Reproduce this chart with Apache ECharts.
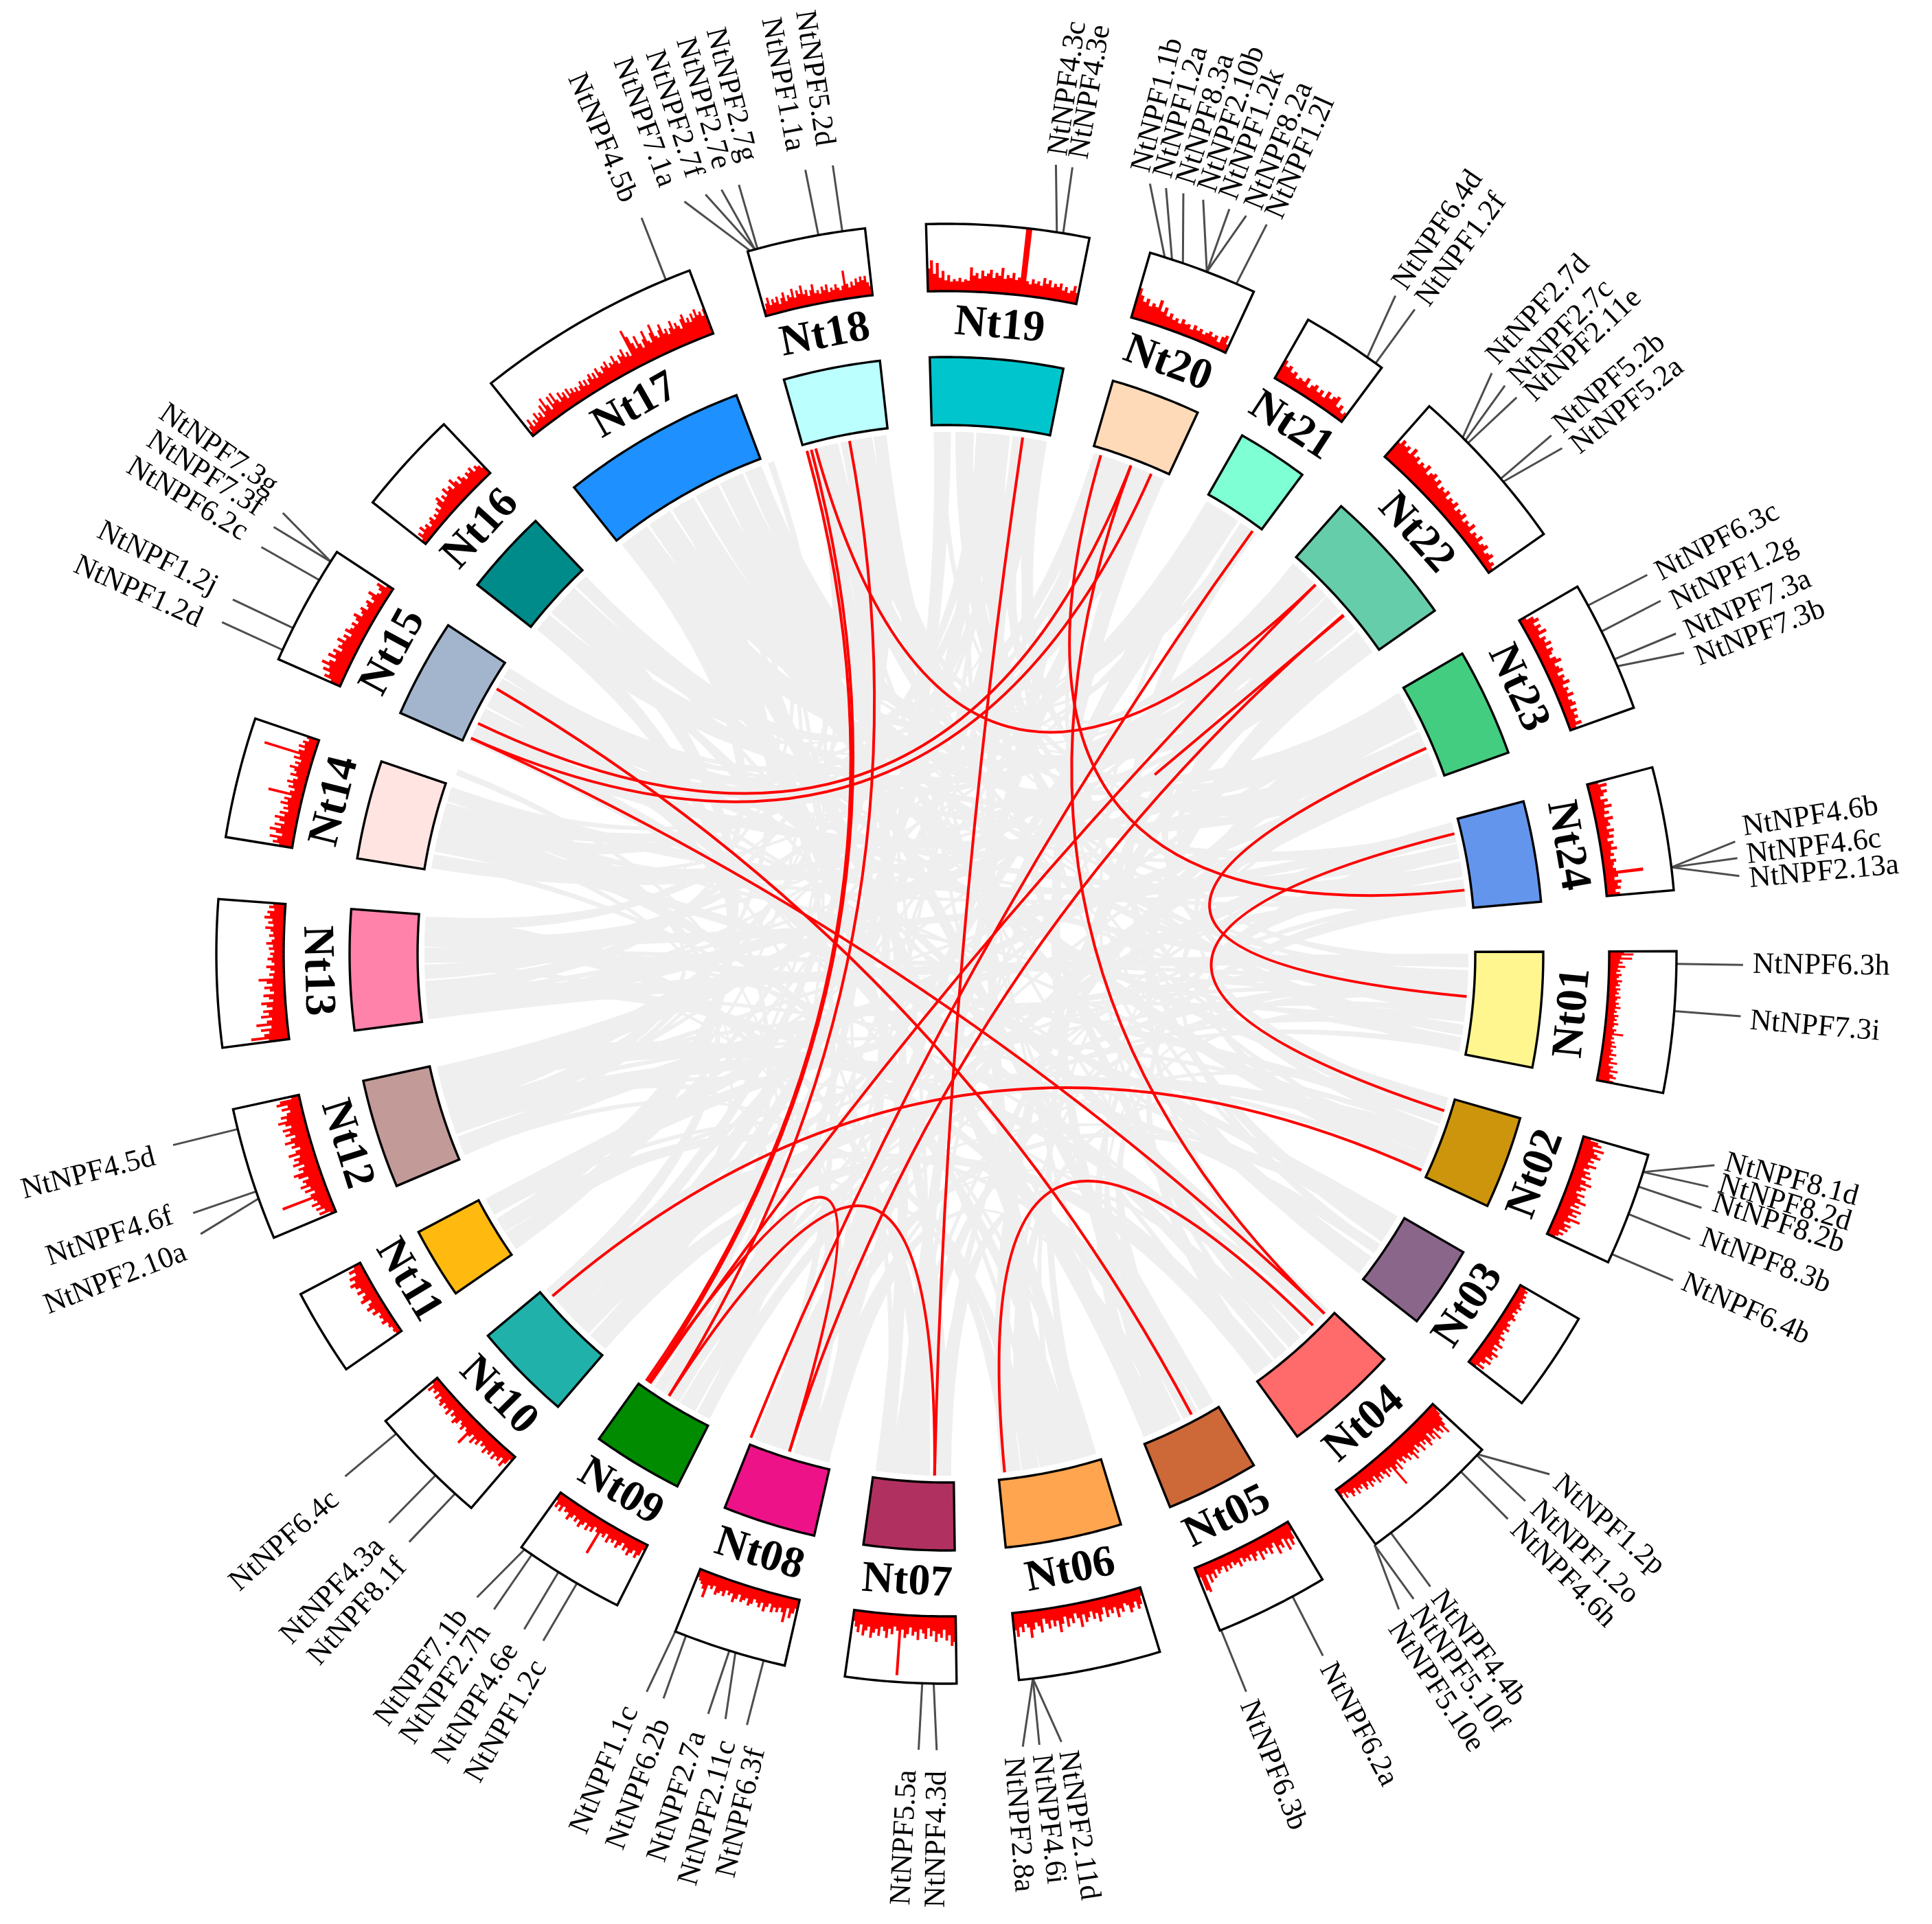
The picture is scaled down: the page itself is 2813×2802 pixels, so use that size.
<!DOCTYPE html>
<html><head><meta charset="utf-8">
<style>html,body{margin:0;padding:0;background:#fff}#c{width:2813px;height:2802px}</style>
<script src="https://cdn.jsdelivr.net/npm/echarts@6/dist/echarts.min.js"></script>
</head><body><div id="c"></div>
<script>
const chromNames=['Nt01','Nt02','Nt03','Nt04','Nt05','Nt06','Nt07','Nt08','Nt09','Nt10','Nt11','Nt12','Nt13','Nt14','Nt15','Nt16','Nt17','Nt18','Nt19','Nt20','Nt21','Nt22','Nt23','Nt24'];
const chromStart=[89.8,106,120,132.8,149,163,179.2,192.8,206.8,220.6,235.3,247.1,262.6,279.2,293.8,308.2,321.4,344.2,358.4,16.2,29.7,41.4,59.8,75.2];
const chromEnd=[101,115,128,144,158,174.3,188,201.8,215.6,230.2,242.2,257.7,274.3,288.8,303.4,316.5,339.4,353.6,371.3,24.9,36.6,54.9,70.3,85];
const chromColors=['#FFF68F','#CD950C','#8B668B','#FF6A6A','#CD6839','#FFA54F','#B03060','#EE1289','#008B00','#20B2AA','#FFB90F','#C29B99','#FF82AB','#FFE4E1','#A2B5CD','#008B8B','#1E90FF','#BBFFFF','#00C5CD','#FFDAB9','#7FFFD4','#66CDAA','#43CD80','#6495ED'];

const hist01=[22,36,18,34,16,20,14,24,13,17,11,19,15,12,20,14,17,11,18,13,16,11,19,14,12,17,13,20,12,15,11,18,13,16,12,19,13,11,17,14,28,12,15,11,17,13,20,12,16,14,22,12,18,15,25,13,20,17,28,16,22,27,18,24];
const hist02=[12,24,30,18,36,22,28,34,20,26,18,32,22,15,26,20,30,16,24,34,18,28,22,16,30,20,26,36,20,28,16,34,22,30,18,38,24,16,28,20,26,14,22,16,12];
const hist03=[10,15,12,17,14,19,13,16,20,14,18,12,17,21,15,13,19,16,22,14,18,15,24,17,20,28,16,24,18,30,22,26,16,28,20,14,24,12];
const hist04=[10,18,26,34,46,30,40,34,26,44,30,38,24,36,42,28,34,26,40,30,24,36,28,42,32,26,36,30,24,34,28,22,38,26,32,58,24,30,22,34,26,20,30,24,32,18,26,22,30,18,24,28,16,22,18,26,14,20,24,16,12,20,10,14];
const hist05=[14,26,34,22,38,18,30,24,36,16,22,30,18,26,20,32,16,22,28,16,24,18,22,14,26,18,20,14,22,16,24,14,18,22,14,26,18,30,16,42,38,16];
const hist06=[12,24,30,18,26,32,20,16,28,22,34,18,26,20,30,14,24,34,20,28,16,24,30,18,36,22,14,28,20,32,16,26,38,20,28,18,30,22,14,34,24,18,28,40,24,18,30,22,36,26];
const hist07=[38,44,28,36,20,32,26,38,22,30,18,34,26,20,36,24,30,18,28,34,22,90,24,18,30,22,36,26,20,34,24,30,38,22,28,36,20,32,24,16];
const hist08=[14,22,30,16,38,24,18,26,20,28,16,22,30,18,26,20,16,24,28,18,22,26,16,24,30,18,22,16,26,20,24,28,16,22,18,38,26,20,16,12];
const hist09=[10,20,26,16,22,28,18,24,14,20,26,16,22,18,26,14,22,18,54,20,14,24,18,26,16,22,28,18,24,16,22,28,18,20,14,24,16,22,12];
const hist10=[8,18,26,14,22,18,26,16,24,20,28,18,22,16,26,20,30,18,24,42,22,18,26,20,16,24,28,18,22,14,26,18,22,16,24,20,14,22,12,18,14,22,10];
const hist11=[8,10,8,12,10,18,13,16,12,22,16,26,20,14,28,22,16,26,18,24,30,20,26,14,22,12];
const hist12=[8,24,14,26,18,30,20,24,72,26,18,32,22,36,26,30,20,34,40,24,30,20,36,26,32,22,38,26,18,30,24,38,28,20,34,26,36,22,30,40,26,34,24,18,30,20,36,30,12];
const hist13=[30,56,36,28,40,24,46,30,22,38,26,34,20,28,36,18,24,32,16,22,30,18,26,38,16,22,14,20,26,14,18,24,16,20,14,22,16,26,18,14,22,16,20,28,16,24,18,30,22,26,16,24,18];
const hist14=[20,30,24,36,18,28,38,22,32,18,26,34,20,28,16,24,18,30,20,26,16,52,20,14,24,18,28,20,14,26,18,22,30,18,24,16,28,20,76,24,16,26,18,22,14,18];
const hist15=[16,28,22,34,26,40,30,22,36,26,32,20,28,24,34,22,28,18,30,24,20,26,18,24,30,18,22,26,16,20,24,14,20,28,16,12,18,24,10];
const hist16=[8,18,12,22,14,18,10,16,20,12,18,14,22,16,26,32,20,28,22,34,26,30,22,36,28,20,30,24,18,26,22,28,18,24,20,14];
const hist17=[6,14,24,10,18,12,26,16,22,12,30,18,38,24,14,34,20,36,22,16,30,20,26,14,28,18,24,16,22,14,20,26,16,24,14,22,28,18,26,16,30,22,18,28,24,32,20,26,22,34,24,18,30,26,36,22,28,20,60,48,36,26,44,30,22,34,46,28,24,38,50,30,26,36,44,28,34,24,32,42,28,36,30,24,38,44,30,36,28,40,32,44,34,38,30,40];
const hist18=[10,18,26,14,22,16,24,12,20,28,14,22,18,30,16,26,20,32,18,24,14,22,30,16,20,14,24,18,26,14,20,16,24,18,14,20,42,22,16,24,18,28,22,30,24,30,20,14];
const hist19=[34,46,26,42,20,30,16,24,14,18,15,20,14,18,16,36,24,28,20,32,24,28,34,22,30,26,38,22,28,24,32,22,26,100,100,22,18,26,20,24,18,30,22,28,18,24,20,26,16,22,14,18,26,16];
const hist20=[46,36,28,34,24,30,26,38,22,30,18,24,16,20,14,22,16,18,12,20,14,18,12,16,20,14,18,10,20,24,12];
const hist21=[32,24,28,20,24,16,20,18,26,14,20,24,16,22,14,26,18,24,28,14,20,10,14];
const hist22=[30,38,32,36,28,40,30,34,26,32,28,36,24,30,34,26,32,22,28,24,30,20,26,22,28,18,24,20,26,16,22,18,26,14,20,16,24,14,18,22,12,16,20,10,14,8];
const hist23=[10,20,26,16,24,18,28,14,22,18,26,16,24,20,14,22,28,16,20,24,14,22,18,26,14,20,16,24,14,18,22,12,20,14,18,12,20,10];
const hist24=[16,28,18,26,20,14,24,18,28,16,22,14,26,18,20,14,24,16,22,12,20,16,24,14,18,12,20,16,14,18,58,20,14,24,18,22,14,20];
const histograms=[hist01,hist02,hist03,hist04,hist05,hist06,hist07,hist08,hist09,hist10,hist11,hist12,hist13,hist14,hist15,hist16,hist17,hist18,hist19,hist20,hist21,hist22,hist23,hist24];

const geneNames=['NtNPF6.3h','NtNPF7.3i','NtNPF8.1d','NtNPF8.2d','NtNPF8.2b','NtNPF8.3b','NtNPF6.4b','NtNPF1.2p','NtNPF1.2o','NtNPF4.6h','NtNPF4.4b','NtNPF5.10f','NtNPF5.10e','NtNPF6.2a','NtNPF6.3b','NtNPF2.11d','NtNPF4.6i','NtNPF2.8a','NtNPF4.3d','NtNPF5.5a','NtNPF6.3f','NtNPF2.11c','NtNPF2.7a','NtNPF6.2b','NtNPF1.1c','NtNPF1.2c','NtNPF4.6e','NtNPF2.7h','NtNPF7.1b','NtNPF8.1f','NtNPF4.3a','NtNPF6.4c','NtNPF2.10a','NtNPF4.6f','NtNPF4.5d','NtNPF1.2d','NtNPF1.2j','NtNPF6.2c','NtNPF7.3f','NtNPF7.3g','NtNPF4.5b','NtNPF7.1a','NtNPF2.7f','NtNPF2.7e','NtNPF2.7g','NtNPF1.1a','NtNPF5.2d','NtNPF4.3c','NtNPF4.3e','NtNPF1.1b','NtNPF1.2a','NtNPF8.3a','NtNPF2.10b','NtNPF1.2k','NtNPF8.2a','NtNPF1.2l','NtNPF6.4d','NtNPF1.2f','NtNPF2.7d','NtNPF2.7c','NtNPF2.11e','NtNPF5.2b','NtNPF5.2a','NtNPF6.3c','NtNPF1.2g','NtNPF7.3a','NtNPF7.3b','NtNPF4.6b','NtNPF4.6c','NtNPF2.13a'];
const geneBase=[90.8,94.5,107.4,107.4,108.6,110.9,114.3,133.3,133.4,135.2,142.5,144.1,144.1,151.7,157.9,173.2,173.2,173.2,181,181.9,194.5,196.8,197.3,200.9,201.8,210.4,212.1,214.6,215.3,222.3,224.4,228.9,250.4,251,256.1,294.6,296.5,300.8,302.5,302.5,337.4,344.4,344.8,344.8,345,349.9,351.8,8.7,9.2,17.4,18,18.9,20.9,20.9,20.9,23.4,35.2,36,45,45.3,45.6,49.4,49.7,61.5,63.8,66.2,66.8,83.2,83.2,83.2];
const geneEnd=[90.8,94.5,105.4,107,108.6,111,114.2,130.8,133.4,135.2,142.6,144.1,145.4,151.8,157.9,171.7,173.3,174.5,180.7,182,194.5,196.1,197.4,200.8,202.1,210.4,212,214.6,216.1,222.4,224.4,229,249.4,251,256.1,294.6,296.4,300.7,302.4,303.6,337.5,340.8,342.4,343.6,344.9,349.8,351.8,7.9,9.1,14.8,16,17.3,18.8,20.8,22.1,23.7,34.3,36,43.2,44.5,45.7,49.4,50.6,61.6,63.7,66.3,67.8,81.9,83.1,84.4];
const geneLabelAt=[90.8,94.8,105,106.6,108,110.6,114,130.8,133.2,135.2,142.6,144.4,146.3,151.9,158.1,171.4,173.3,175.3,180.6,182.7,193.4,195.5,197.7,200.3,202.7,209.8,212.1,214.4,216.3,221.8,223.9,228.4,248.6,251.3,255.6,294.1,296.6,300.9,302.9,304.7,337.1,340,342,344,345.9,349.3,351.4,8,9.5,14,15.6,17.3,18.9,20.5,22.4,24,34.2,36.2,42.6,44.7,46.3,49.3,51.2,61.9,64.2,66.5,68.5,81,83,84.7];

const redLinks=[[344.5,215.1],[345,214.8],[349.3,212.1],[345.5,45],[45,214.6],[49.5,197.5],[35.9,202],[214.8,197.5],[212.1,181.3],[8.4,181.3],[17.2,83],[20.7,133.6],[20.7,296.2],[23.1,294.4],[294.4,133.6],[300.5,152],[173.6,135.4],[94.7,66.8],[76.7,107.5],[114.5,229]];
const redStubFrom=[49.6];
const redStubTo=[49.3];

const grayLinks=[[90,91.5,262.8,265],[91.8,93,300.3,301.8],[93.3,94.5,207,208.5],[94.8,96,331.3,334],[96.5,97.5,151.3,153],[97.8,99,1,3],[99.2,100.8,41.6,44],[90.5,91.5,46.8,49],[92,93,240,242],[94,95,184,185.8],
[106,107.5,314.8,316.3],[107.7,109,269,270.5],[109.3,110.5,18.3,20],[110.8,112.5,223.3,226],[112.7,114.8,328.3,331],[106.5,108,60,62],[110,111,169.8,171.5],[113,114.5,79.8,81.5],
[120.2,121.5,281.3,283],[122,123.5,34.3,36.4],[123.8,125,249.8,252],[125.5,127.8,337.3,339.2],[121,122,197.5,199.5],[124,125,64.8,67],
[133,135,310.8,312],[135.5,137,254.3,257.5],[137.3,139,5.3,7],[139.3,141,294,296],[141.3,143.8,220.8,223],[134,135,51.8,54.7],[138,139,179.5,181.5],[142,143.5,77.8,79.5],
[149.2,151,334.3,337],[151.3,153,265.3,267],[153.3,155,22.3,24.7],[155.3,157.8,298.3,300],[150,151,228.2,230],[154,155,193,195],[156,157.5,83.2,84.8],
[163.3,165,325.3,328],[165.4,167,283.2,285],[167.3,169.5,7.3,9],[169.8,171.5,237.8,239.5],[171.8,174,49.3,51.5],[164,165,44.3,46.5],[172,173.5,212.8,214],
[179.5,181,321.6,325],[181.8,183.5,270.8,272.5],[184,185.8,16.4,18],[186,187.8,344.4,346],[180,181,62.3,64.5],[183,184,226.3,228],
[193,195,346.3,348],[195.3,197,272.7,274.1],[197.5,199.5,20.3,22],[199.8,201.6,67.3,70.1],[194,195,29.9,32],[200,201,325.5,327],
[207,208.5,348.3,350],[208.8,210.5,75.4,77.5],[210.8,212.5,32.3,34],[212.8,214,302,303.2],[214.2,215.4,358.6,360.5],[209,210,250,251.5],
[220.8,223,9.3,11.1],[223.3,226,3.3,5],[226.3,228,350.2,351.8],[228.2,230,287,288.6],[222,223,60.5,61.5],
[235.5,237.5,308.4,310.5],[237.8,239.5,312.3,314.5],[240,242,67.5,69],[236,237,352,353.4],
[247.3,249.5,81.8,83],[249.8,252,285.2,286.8],[252.3,254,352.2,353.4],[254.3,257.5,41.8,43.5],[248,249,328.5,330],
[262.8,265,51.9,54],[265.3,267,321.8,324],[267.2,268.8,344.5,345.8],[269,270.5,7.5,8.8],[270.8,272.5,75.6,77],[272.7,274.1,333,334],
[279.4,281,46.9,48.5],[281.3,283,60.2,61.8],[283.2,285,336,337],[285.2,286.8,3.5,4.8],[287,288.6,78,79.3],[279.6,280.6,300.5,301.5],
[294,296,65,66.8],[296.2,298,30,31.8],[298.3,300,16.6,17.8],[300.3,301.8,44.5,46],[302,303.2,80,81.3],
[308.4,310.5,47,48.8],[310.8,312,68,69.5],[312.3,314.5,19,20],[314.8,316.3,62.5,64],
[321.6,325,49.5,51.2],[325.3,328,32.5,33.8],[328.3,331,65.2,67],[331.3,334,20.5,21.8],[334.3,337,52,54.5],[337.3,339.2,76,77.3],
[344.5,346,84,84.8],[346.3,348,66,67],[348.3,350,60.5,62],[350.2,351.8,35,36],[352,353.4,10,11],
[1,3,63,64.3],[3.3,5,82,83],[5.3,7,300.6,301.6],[7.3,9,42,43.5],[9.3,11.1,69,70],[16.4,18,302.2,303],[22.3,24.7,296.5,298],[29.9,32,294.5,295.5]];

const grayLinksThin=[[90.5,91.2,225,225.7],[92.5,93.2,155,155.7],[95,95.7,270,270.7],[96,96.7,345,345.7],[98,98.7,210,210.7],[99.5,100.2,285,285.7],
[106.5,107.2,195,195.7],[108,108.7,350,350.7],[109.5,110.2,252,252.7],[111,111.7,296,296.7],[112,112.7,5,5.7],[113.5,114.2,237,237.7],
[120.5,121.2,211,211.7],[122,122.7,264,264.7],[124,124.7,18,18.7],[125.5,126.2,300,300.7],[126.5,127.2,10,10.7],
[134,134.7,200,200.7],[136,136.7,272,272.7],[138,138.7,345,345.7],[140,140.7,32,32.7],[141.5,142.2,250,250.7],[143,143.7,315,315.7],
[149.5,150.2,240,240.7],[151.5,152.2,352,352.7],[153.5,154.2,68,68.7],[155.5,156.2,312,312.7],[157,157.7,2,2.7],
[163.5,164.2,280,280.7],[165,165.7,352,352.7],[167,167.7,62,62.7],[169,169.7,301,301.7],[171,171.7,80,80.7],
[180,180.7,247.5,248.2],[182,182.7,346,346.7],[184,184.7,30,30.7],[185.5,186.2,76,76.7],[186.5,187.2,300,300.7],
[193.5,194.2,268,268.7],[195.5,196.2,330,330.7],[197.5,198.2,46,46.7],[199.5,200.2,83,83.7],[200.5,201.2,5,5.7],
[207.5,208.2,290,290.7],[209,209.7,10,10.7],[211,211.7,65,65.7],[213,213.7,100,100.7],[212,212.7,335,335.7],
[221.5,222.2,283,283.7],[224,224.7,48,48.7],[226,226.7,340,340.7],[228,228.7,22,22.7],[229,229.7,96,96.7],
[236,236.7,5,5.7],[238,238.7,336,336.7],[240,240.7,44,44.7],[241,241.7,94,94.7],
[248,248.7,345,345.7],[250,250.7,20,20.7],[252,252.7,69,69.7],[254,254.7,98,98.7],[255,255.7,8,8.7],
[263.5,264.2,22,22.7],[265,265.7,45,45.7],[269,269.7,93,93.7],[271,271.7,33,33.7],[273,273.7,350,350.7],
[280,280.7,18,18.7],[282,282.7,52,52.7],[284,284.7,80,80.7],[287.5,288.2,9,9.7],
[295,295.7,6,6.7],[297,297.7,53,53.7],[299,299.7,83,83.7],[302,302.7,35,35.7],
[309,309.7,6,6.7],[311,311.7,32,32.7],[313,313.7,76,76.7],[315,315.7,98,98.7],
[322,322.7,22,22.7],[324,324.7,61,61.7],[327,327.7,83,83.7],[332,332.7,46,46.7],[335,335.7,92,92.7],
[345,345.7,30,30.7],[347,347.7,54,54.7],[349,349.7,77,77.7],[351,351.7,94,94.7],
[359,359.7,47,47.7],[4,4.7,93,93.7]];

const RING={linkR:760,blockIn:770,blockOut:869,labelR:917,trackIn:965,trackOut:1063,tickEnd:1160,textRight:1174,textLeft:1190};
const pt=(api,r,a)=>api.coord([r,((a%360)+360)%360]);
const arc=(api,r,a,b,n)=>{const o=[];for(let i=0;i<=n;i++)o.push(pt(api,r,a+(b-a)*i/n));return o;};
function ctrl(api,a,b){
  let d=((b-a)%360+360)%360; if(d>180)d-=360;
  const half=Math.abs(d)/2*Math.PI/180, mid=a+d/2;
  return pt(api,45*Math.pow(Math.cos(half),4),mid);
}
function quad(p0,c,p1,n){const o=[];for(let i=0;i<=n;i++){const t=i/n,u=1-t;o.push([u*u*p0[0]+2*u*t*c[0]+t*t*p1[0],u*u*p0[1]+2*u*t*c[1]+t*t*p1[1]]);}return o;}
function sectorPts(api,r0,r1,a,b){const n=Math.max(6,Math.ceil(b-a)*2);return arc(api,r0,a,b,n).concat(arc(api,r1,b,a,n));}

const base={coordinateSystem:'polar',type:'custom',silent:true,clip:false,animation:false};
const chromData=chromNames.map((n,i)=>[chromStart[i],chromEnd[i]]);

const option={
 backgroundColor:'#ffffff',animation:false,
 polar:{center:[1378,1389],radius:1388},
 angleAxis:{type:'value',min:0,max:360,startAngle:90,clockwise:true,show:false},
 radiusAxis:{type:'value',min:0,max:1388,show:false},
 series:[
  Object.assign({},base,{name:'synteny',data:grayLinks.concat(grayLinksThin),renderItem(p,api){
    const a1=api.value(0),a2=api.value(1),b1=api.value(2),b2=api.value(3),R=RING.linkR;
    const s1=quad(pt(api,R,a1),ctrl(api,a1,b2),pt(api,R,b2),28);
    const s2=quad(pt(api,R,b1),ctrl(api,b1,a2),pt(api,R,a2),28);
    return {type:'polygon',shape:{points:s1.concat(s2)},style:{fill:'#efefef',stroke:null}};
  }}),
  Object.assign({},base,{name:'redLinks',data:redLinks,z:3,renderItem(p,api){
    const a=api.value(0),b=api.value(1),R=RING.linkR,s=pt(api,R,a),e=pt(api,R,b),c=ctrl(api,a,b);
    return {type:'bezierCurve',shape:{x1:s[0],y1:s[1],x2:e[0],y2:e[1],cpx1:c[0],cpy1:c[1]},style:{stroke:'#ff0000',lineWidth:4,fill:'none'}};
  }}),
  Object.assign({},base,{name:'redStub',data:redStubFrom.map((v,i)=>[v,redStubTo[i]]),z:3,renderItem(p,api){
    const s=pt(api,RING.linkR,api.value(0)),e=pt(api,400,api.value(1));
    return {type:'line',shape:{x1:s[0],y1:s[1],x2:e[0],y2:e[1]},style:{stroke:'#ff0000',lineWidth:4}};
  }}),
  Object.assign({},base,{name:'blocks',data:chromData,z:4,renderItem(p,api){
    const i=p.dataIndex;
    return {type:'polygon',shape:{points:sectorPts(api,RING.blockIn,RING.blockOut,api.value(0),api.value(1))},style:{fill:chromColors[i],stroke:'#000',lineWidth:3.4,lineJoin:'miter'}};
  }}),
  Object.assign({},base,{name:'trackBg',data:chromData,z:4,renderItem(p,api){
    return {type:'polygon',shape:{points:sectorPts(api,RING.trackIn,RING.trackOut,api.value(0),api.value(1))},style:{fill:'#fff',stroke:null}};
  }}),
  Object.assign({},base,{name:'density',data:chromData,z:5,renderItem(p,api){
    const i=p.dataIndex,v=histograms[i],a=api.value(0),b=api.value(1),n=v.length,pts=[];
    const H=RING.trackOut-RING.trackIn;
    for(let j=0;j<n;j++){const x0=a+(b-a)*j/n,x1=a+(b-a)*(j+1)/n,r=RING.trackIn+H*v[j]/100;pts.push(pt(api,r,x0),pt(api,r,x1));}
    return {type:'polygon',shape:{points:pts.concat(arc(api,RING.trackIn,b,a,Math.ceil(b-a)*2))},style:{fill:'#ff0000',stroke:null}};
  }}),
  Object.assign({},base,{name:'trackFrame',data:chromData,z:6,renderItem(p,api){
    return {type:'polygon',shape:{points:sectorPts(api,RING.trackIn,RING.trackOut,api.value(0),api.value(1))},style:{fill:'none',stroke:'#000',lineWidth:3.4,lineJoin:'miter'}};
  }}),
  Object.assign({},base,{name:'chromLabels',data:chromData,z:7,renderItem(p,api){
    const a=(api.value(0)+api.value(1))/2, m=((a%360)+360)%360, q=pt(api,RING.labelR,m);
    const rot=(m>90&&m<270)?m-180:m;
    return {type:'text',x:q[0],y:q[1],rotation:-rot*Math.PI/180,style:{text:chromNames[p.dataIndex],fontFamily:'Liberation Serif',fontWeight:'bold',fontSize:64,fill:'#000',align:'center',verticalAlign:'middle'}};
  }}),
  Object.assign({},base,{name:'geneTicks',data:geneBase.map((v,i)=>[v,geneEnd[i]]),z:3,renderItem(p,api){
    const s=pt(api,RING.trackOut,api.value(0)),e=pt(api,RING.tickEnd,api.value(1));
    return {type:'line',shape:{x1:s[0],y1:s[1],x2:e[0],y2:e[1]},style:{stroke:'#4d4d4d',lineWidth:3}};
  }}),
  Object.assign({},base,{name:'geneLabels',data:geneLabelAt.map(v=>[v]),z:7,renderItem(p,api){
    const m=api.value(0), right=m<180, q=pt(api,right?RING.textRight:RING.textLeft,m);
    const rot=right?m-90:m-270;
    return {type:'text',x:q[0],y:q[1],rotation:-rot*Math.PI/180,style:{text:geneNames[p.dataIndex],fontFamily:'Liberation Serif',fontSize:43.5,fill:'#000',align:right?'left':'right',verticalAlign:'middle'}};
  }})
 ]
};
const chart=echarts.init(document.getElementById('c'),null,{renderer:'canvas',width:2813,height:2802});
chart.setOption(option);
</script></body></html>
